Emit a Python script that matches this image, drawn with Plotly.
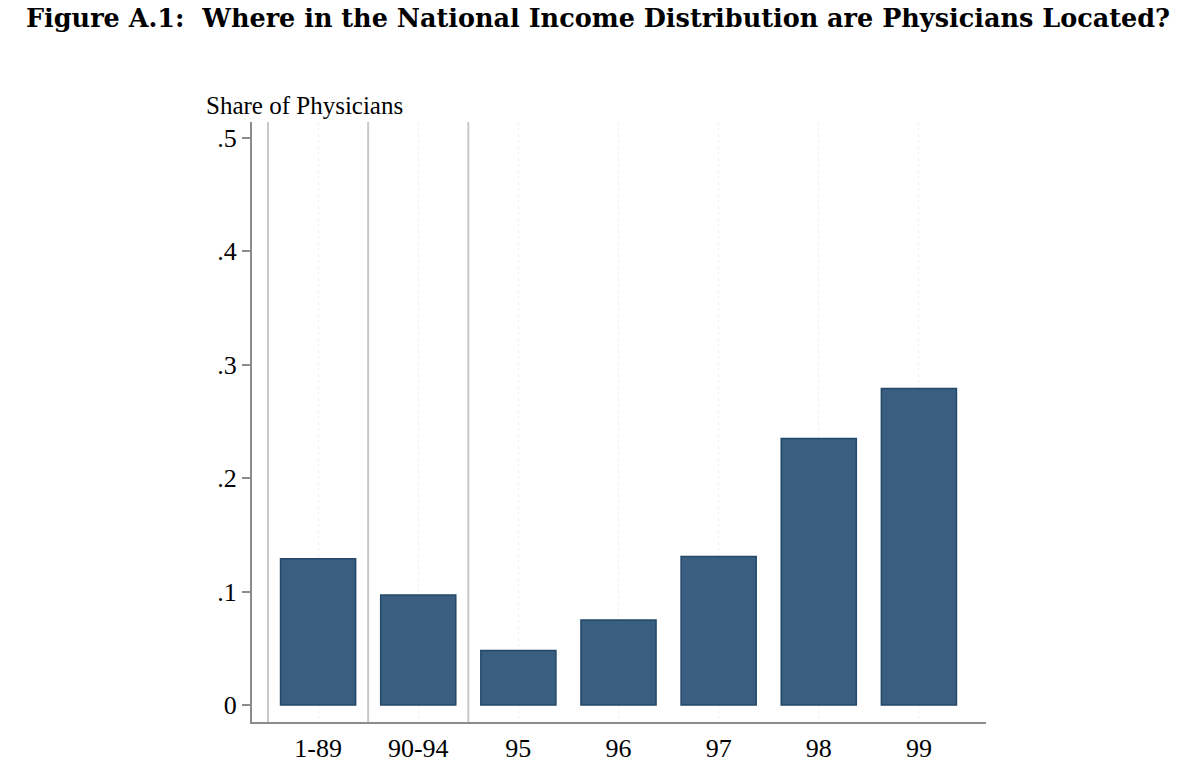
import plotly.graph_objects as go

# ===== 数据 =====
categories = ["1-89", "90-94", "95", "96", "97", "98", "99"]
shares = [0.129, 0.097, 0.048, 0.075, 0.131, 0.235, 0.279]
y_ticks = [0, 0.1, 0.2, 0.3, 0.4, 0.5]
y_tick_text = ["0", ".1", ".2", ".3", ".4", ".5"]
# categories whose left edge gets a solid separator line
separated = ["1-89", "90-94", "95"]

serif = "Liberation Serif, Times New Roman, serif"

fig = go.Figure()

fig.add_trace(go.Bar(
    x=categories,
    y=shares,
    width=0.75,
    marker=dict(color="#3a5e7f", line=dict(color="#23486a", width=1.5)),
    showlegend=False,
))

# ===== 分隔竖线 =====
for cat in separated:
    pos = categories.index(cat) - 0.5
    fig.add_shape(
        type="line", xref="x", yref="paper",
        x0=pos, x1=pos, y0=0, y1=1,
        line=dict(color="#c8c8c8", width=2),
        layer="below",
    )

fig.update_layout(
    title=dict(
        text="<b>Figure A.1:  Where in the National Income Distribution are Physicians Located?</b>",
        x=590 / 1200, xref="container", xanchor="center",
        y=1, yref="container", yanchor="top", pad=dict(t=1),
        font=dict(family="DejaVu Serif, serif", size=25.5, color="black"),
    ),
    width=1200,
    height=767,
    margin=dict(l=244, r=222, t=114, b=43),
    plot_bgcolor="white",
    paper_bgcolor="white",
    bargap=0.25,
    annotations=[dict(
        text="Share of Physicians",
        xref="paper", yref="paper",
        x=-0.066, y=1, xanchor="left", yanchor="bottom", yshift=1,
        showarrow=False,
        font=dict(family=serif, size=25, color="black"),
    )],
)

fig.update_xaxes(
    type="category",
    range=[-0.66, 6.67],
    showline=True, linecolor="#8c8c8c", linewidth=2,
    ticks="",
    showgrid=True, gridcolor="#efefef", griddash="dot", gridwidth=1,
    zeroline=False,
    ticklabelstandoff=2,
    tickfont=dict(family=serif, size=26, color="black"),
)

fig.update_yaxes(
    range=[-0.015, 0.514],
    tickvals=y_ticks,
    ticktext=y_tick_text,
    showline=True, linecolor="#8c8c8c", linewidth=2,
    ticks="outside", ticklen=8, tickcolor="#8c8c8c", tickwidth=1.5,
    showgrid=False, zeroline=False,
    tickfont=dict(family=serif, size=26, color="black"),
)

fig.write_html("out.html")
